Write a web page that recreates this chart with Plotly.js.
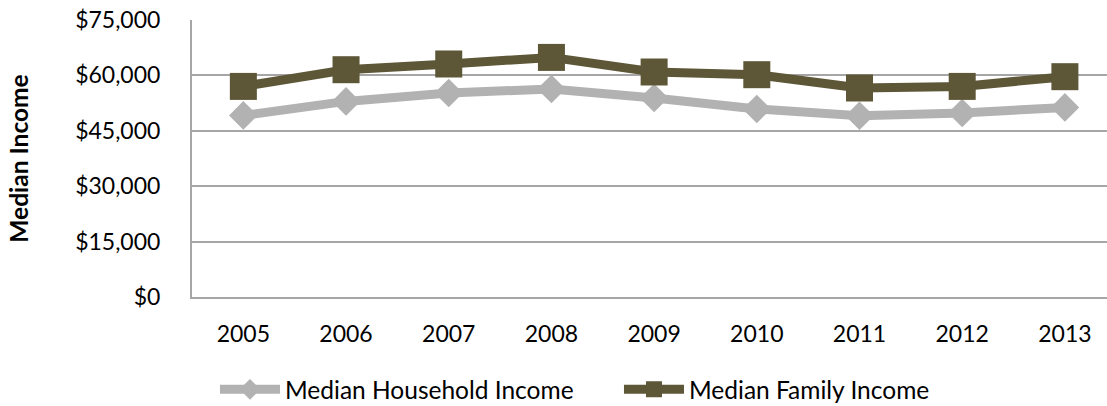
<!DOCTYPE html>
<html>
<head>
<meta charset="utf-8">
<script src="https://cdn.plot.ly/plotly-3.0.1.min.js"></script>
<style>html,body{margin:0;padding:0;background:#fff;}#chart{width:1107px;height:406px;}</style>
</head>
<body>
<div id="chart"></div>
<script>
const years = ["2005","2006","2007","2008","2009","2010","2011","2012","2013"];
const householdIncome = [49170, 52960, 55230, 56320, 53880, 50900, 49090, 49820, 51330];
const familyIncome = [57020, 61540, 63090, 64870, 60920, 60190, 56590, 57020, 59650];
const yTicks = [0, 15000, 30000, 45000, 60000, 75000];
const yTickLabels = ["$0", "$15,000", "$30,000", "$45,000", "$60,000", "$75,000"];

const FONT = "Lato, 'Open Sans', sans-serif";

const traces = [
  {
    x: years, y: householdIncome, name: "Median Household Income",
    type: "scatter", mode: "lines+markers",
    line: {color: "#b2b2b2", width: 9},
    marker: {symbol: "diamond", size: 22, color: "#b2b2b2"}
  },
  {
    x: years, y: familyIncome, name: "Median Family Income",
    type: "scatter", mode: "lines+markers",
    line: {color: "#5d5637", width: 9},
    marker: {symbol: "square", size: 27, color: "#5d5637"}
  }
];

const layout = {
  width: 1107, height: 406,
  margin: {l: 192, r: 0, t: 20, b: 109, pad: 0},
  paper_bgcolor: "#fff", plot_bgcolor: "#fff",
  font: {family: FONT, size: 23, color: "#000"},
  showlegend: true,
  legend: {
    orientation: "h", xref: "container", yref: "container",
    x: 0.1942, y: 0.041, xanchor: "left", yanchor: "middle",
    font: {family: FONT, size: 24.5, color: "#000"},
    itemwidth: 60, entrywidth: 329, tracegroupgap: 0, itemclick: false
  },
  xaxis: {
    type: "category", range: [-0.5, 8.41],
    showline: true, linecolor: "#a6a6a6", linewidth: 2,
    showgrid: false, ticks: "", ticklabelstandoff: 15,
    tickfont: {family: FONT, size: 23, color: "#000"}, fixedrange: true
  },
  yaxis: {
    range: [0, 75000], tickvals: yTicks, ticktext: yTickLabels,
    showline: true, linecolor: "#a6a6a6", linewidth: 2,
    showgrid: true, gridcolor: "#a6a6a6", gridwidth: 2, zeroline: false,
    ticks: "", ticklabelstandoff: 25,
    tickfont: {family: FONT, size: 23, color: "#000"},
    title: {text: "<b>Median Income</b>", font: {family: FONT, size: 24.5, color: "#000"}, standoff: 40},
    fixedrange: true
  }
};

Plotly.newPlot("chart", traces, layout, {displayModeBar: false, staticPlot: true});
</script>
</body>
</html>
